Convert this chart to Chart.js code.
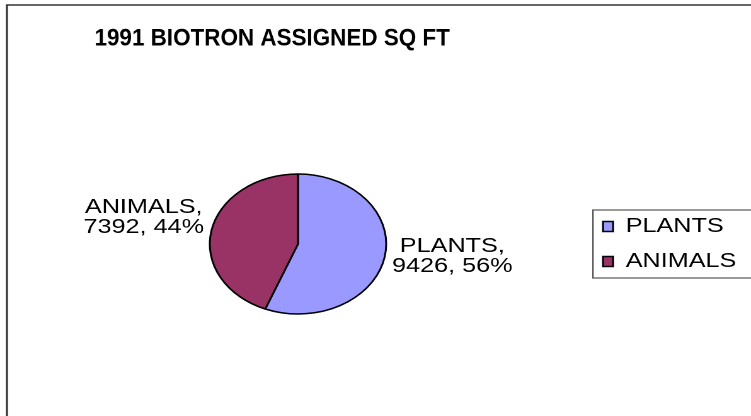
<!DOCTYPE html>
<html>
<head>
<meta charset="utf-8">
<script src="https://cdn.jsdelivr.net/npm/chart.js@4/dist/chart.umd.min.js"></script>
<style>
  html, body { margin: 0; padding: 0; background: #fff; overflow: hidden; width: 751px; height: 416px; }
  #wrap { transform: scaleX(1.26); transform-origin: 0 0; width: 620px; height: 416px; }
</style>
</head>
<body>
<div id="wrap"><canvas id="grafico" width="620" height="416"></canvas></div>
<script>
  const titulo = '1991 BIOTRON ASSIGNED SQ FT';
  const categorias = ['PLANTS', 'ANIMALS'];
  const valores = [9426, 7392];
  const cores = ['#9999FF', '#993366'];

  const fonte = '"Liberation Sans", Arial, sans-serif';

  // moldura, titulo e caixa da legenda
  const extras = {
    id: 'extras',
    beforeDraw(chart) {
      const ctx = chart.ctx;
      ctx.save();
      ctx.strokeStyle = '#333';
      ctx.lineWidth = 1.6;
      ctx.beginPath();
      ctx.moveTo(5.5, 420);
      ctx.lineTo(5.5, 5);
      ctx.lineTo(chart.width + 5, 5);
      ctx.stroke();

      ctx.fillStyle = '#000';
      ctx.font = 'bold 24px ' + fonte;
      ctx.textAlign = 'center';
      ctx.textBaseline = 'middle';
      ctx.fillText(titulo, 216, 39, 282);

      const lg = chart.legend;
      ctx.strokeStyle = '#555';
      ctx.lineWidth = 1.2;
      ctx.strokeRect(lg.left + 7, 210, chart.width, 68);
      ctx.restore();
    },
    afterDatasetsDraw(chart) {
      const ctx = chart.ctx;
      const meta = chart.getDatasetMeta(0);
      const total = valores.reduce((a, b) => a + b, 0);
      ctx.save();
      ctx.font = '20px ' + fonte;
      ctx.fillStyle = '#000';
      ctx.textBaseline = 'middle';
      ctx.textAlign = 'center';
      meta.data.forEach((arc, i) => {
        const p = arc.getProps(['x', 'y', 'startAngle', 'endAngle', 'outerRadius'], true);
        const meio = (p.startAngle + p.endAngle) / 2;
        const ax = p.x + Math.cos(meio) * (p.outerRadius + 6);
        const ay = p.y + Math.sin(meio) * (p.outerRadius + 6);
        const linhas = [categorias[i] + ',', valores[i] + ', ' + Math.round(valores[i] / total * 100) + '%'];
        const larg = Math.max(...linhas.map(l => ctx.measureText(l).width));
        const esquerda = Math.cos(meio) >= 0 ? ax : ax - larg;
        const centroY = ay - (Math.cos(meio) >= 0 ? 2 : 12);
        linhas.forEach((l, k) => {
          ctx.fillText(l, esquerda + larg / 2, centroY + (k - 0.5) * 20);
        });
      });
      ctx.restore();
    }
  };

  new Chart(document.getElementById('grafico'), {
    type: 'pie',
    data: {
      labels: categorias,
      datasets: [{
        data: valores,
        backgroundColor: cores,
        borderColor: '#000',
        borderWidth: 1.5,
        radius: 70
      }]
    },
    options: {
      responsive: false,
      animation: false,
      devicePixelRatio: 2,
      layout: { padding: { left: 9.4, right: 25.6, top: 160, bottom: 88 } },
      plugins: {
        title: { display: false },
        tooltip: { enabled: false },
        legend: {
          position: 'right',
          labels: {
            boxWidth: 8,
            boxHeight: 10,
            padding: 15,
            color: '#000',
            font: { family: fonte, size: 20 }
          }
        }
      }
    },
    plugins: [extras]
  });
</script>
</body>
</html>
